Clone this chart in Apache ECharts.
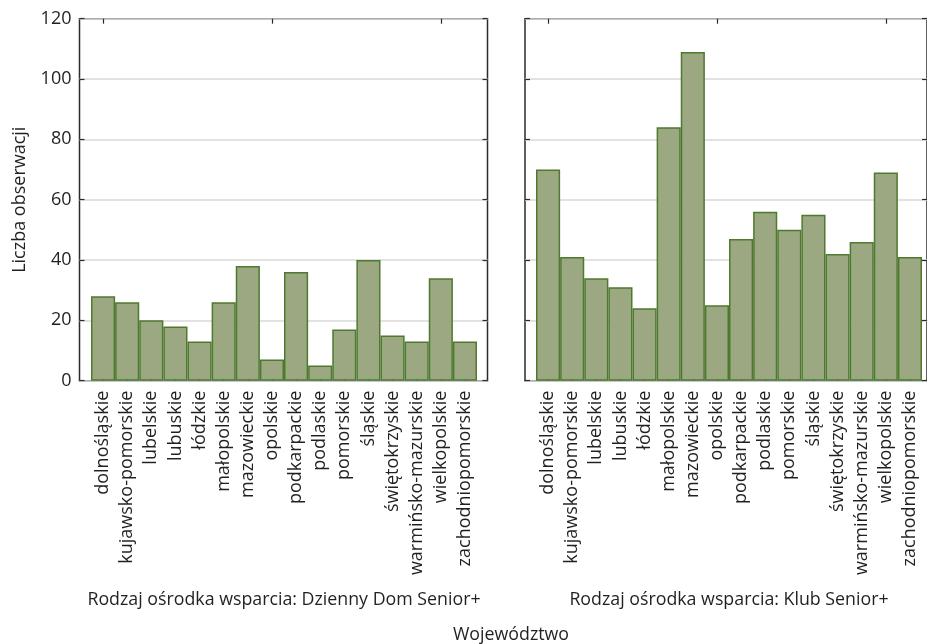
<!DOCTYPE html>
<html>
<head>
<meta charset="utf-8">
<script src="https://cdn.jsdelivr.net/npm/echarts@6/dist/echarts.min.js"></script>
<style>
  html, body { margin: 0; padding: 0; background: #fff; }
  #chart { width: 927px; height: 644px; }
</style>
</head>
<body>
<div id="chart"></div>
<script>
const regions = [
  'dolnośląskie', 'kujawsko-pomorskie', 'lubelskie', 'lubuskie', 'łódzkie',
  'małopolskie', 'mazowieckie', 'opolskie', 'podkarpackie', 'podlaskie',
  'pomorskie', 'śląskie', 'świętokrzyskie', 'warmińsko-mazurskie',
  'wielkopolskie', 'zachodniopomorskie'
];
const dziennyDom = [28, 26, 20, 18, 13, 26, 38, 7, 36, 5, 17, 40, 15, 13, 34, 13];
const klubSenior = [70, 41, 34, 31, 24, 84, 109, 25, 47, 56, 50, 55, 42, 46, 69, 41];
const yTicks = [0, 20, 40, 60, 80, 100, 120];

const FONT = 'Open Sans';
const TXT = '#231f20';
const FILL = '#9ba882';
const EDGE = '#4e7a2f';
const FRAME = '#2b2b2b';

const chart = echarts.init(document.getElementById('chart'));

// frame grids carry the box, y labels and gridlines; bar grids sit inset
const frameGrid = (left, right) => ({
  left, right, top: 18.7, bottom: 263.3,
  show: true, borderColor: FRAME, borderWidth: 1.5, backgroundColor: 'transparent'
});
const barGrid = (left, right) => ({ left, right, top: 18.7, bottom: 263.3 });

const frameY = (gridIndex, showLabels) => ([
  {
    type: 'value', gridIndex, min: yTicks[0], max: yTicks[yTicks.length - 1], interval: 20, position: 'left',
    name: showLabels ? 'Liczba obserwacji' : '', nameLocation: 'middle', nameGap: 51,
    nameTextStyle: { fontFamily: FONT, fontSize: 18, color: TXT },
    axisLine: { show: false },
    axisTick: { show: true, inside: true, length: 5, lineStyle: { color: FRAME, width: 1.2 } },
    axisLabel: { show: showLabels, fontFamily: FONT, fontSize: 18, color: TXT, margin: 8 },
    splitLine: { show: true, lineStyle: { color: '#d9d9d9', width: 1.5 } }
  },
  {
    type: 'value', gridIndex, min: yTicks[0], max: yTicks[yTicks.length - 1], interval: 20, position: 'right',
    axisLine: { show: false },
    axisTick: { show: true, inside: true, length: 5, lineStyle: { color: FRAME, width: 1.2 } },
    axisLabel: { show: false },
    splitLine: { show: false }
  }
]);

const frameX = (gridIndex) => ({
  type: 'value', gridIndex, min: 0, max: 1, show: false
});

const barX = (gridIndex, title) => ([
  {
    type: 'category', gridIndex, data: regions, position: 'bottom',
    name: title, nameLocation: 'middle', nameGap: 210,
    nameTextStyle: { fontFamily: FONT, fontSize: 17.8, color: TXT },
    axisLine: { show: false },
    axisTick: { show: true, inside: true, alignWithLabel: true, length: 4, lineStyle: { color: FRAME, width: 1.2 } },
    axisLabel: { rotate: 90, interval: 0, fontFamily: FONT, fontSize: 18, color: TXT, margin: 10 }
  },
  {
    type: 'category', gridIndex, data: regions, position: 'top',
    axisLine: { show: false },
    axisTick: { show: true, inside: true, alignWithLabel: true, length: 5, lineStyle: { color: FRAME, width: 1.2 } },
    axisLabel: { show: false }
  }
]);

const barY = (gridIndex) => ({
  type: 'value', gridIndex, min: 0, max: 120, show: false, splitLine: { show: false }
});

const barSeries = (xAxisIndex, yAxisIndex, data) => ({
  type: 'bar', xAxisIndex, yAxisIndex, data,
  barCategoryGap: 0, z: 3,
  itemStyle: { color: FILL, borderColor: EDGE, borderWidth: 1.5 }
});

chart.setOption({
  animation: false,
  textStyle: { fontFamily: FONT },
  graphic: [{
    type: 'text', x: 511, y: 635,
    style: {
      text: 'Województwo', fontFamily: FONT, fontSize: 17.8, fill: TXT,
      align: 'center', verticalAlign: 'middle'
    }
  }],
  grid: [
    frameGrid(79.5, 439.5),
    barGrid(91, 450),
    frameGrid(525, -5.5),
    barGrid(536, 5)
  ],
  xAxis: [
    frameX(0),
    ...barX(1, 'Rodzaj ośrodka wsparcia: Dzienny Dom Senior+'),
    frameX(2),
    ...barX(3, 'Rodzaj ośrodka wsparcia: Klub Senior+')
  ],
  yAxis: [
    ...frameY(0, true),
    barY(1),
    ...frameY(2, false),
    barY(3)
  ],
  series: [
    barSeries(1, 2, dziennyDom),
    barSeries(4, 5, klubSenior)
  ]
});
</script>
</body>
</html>
